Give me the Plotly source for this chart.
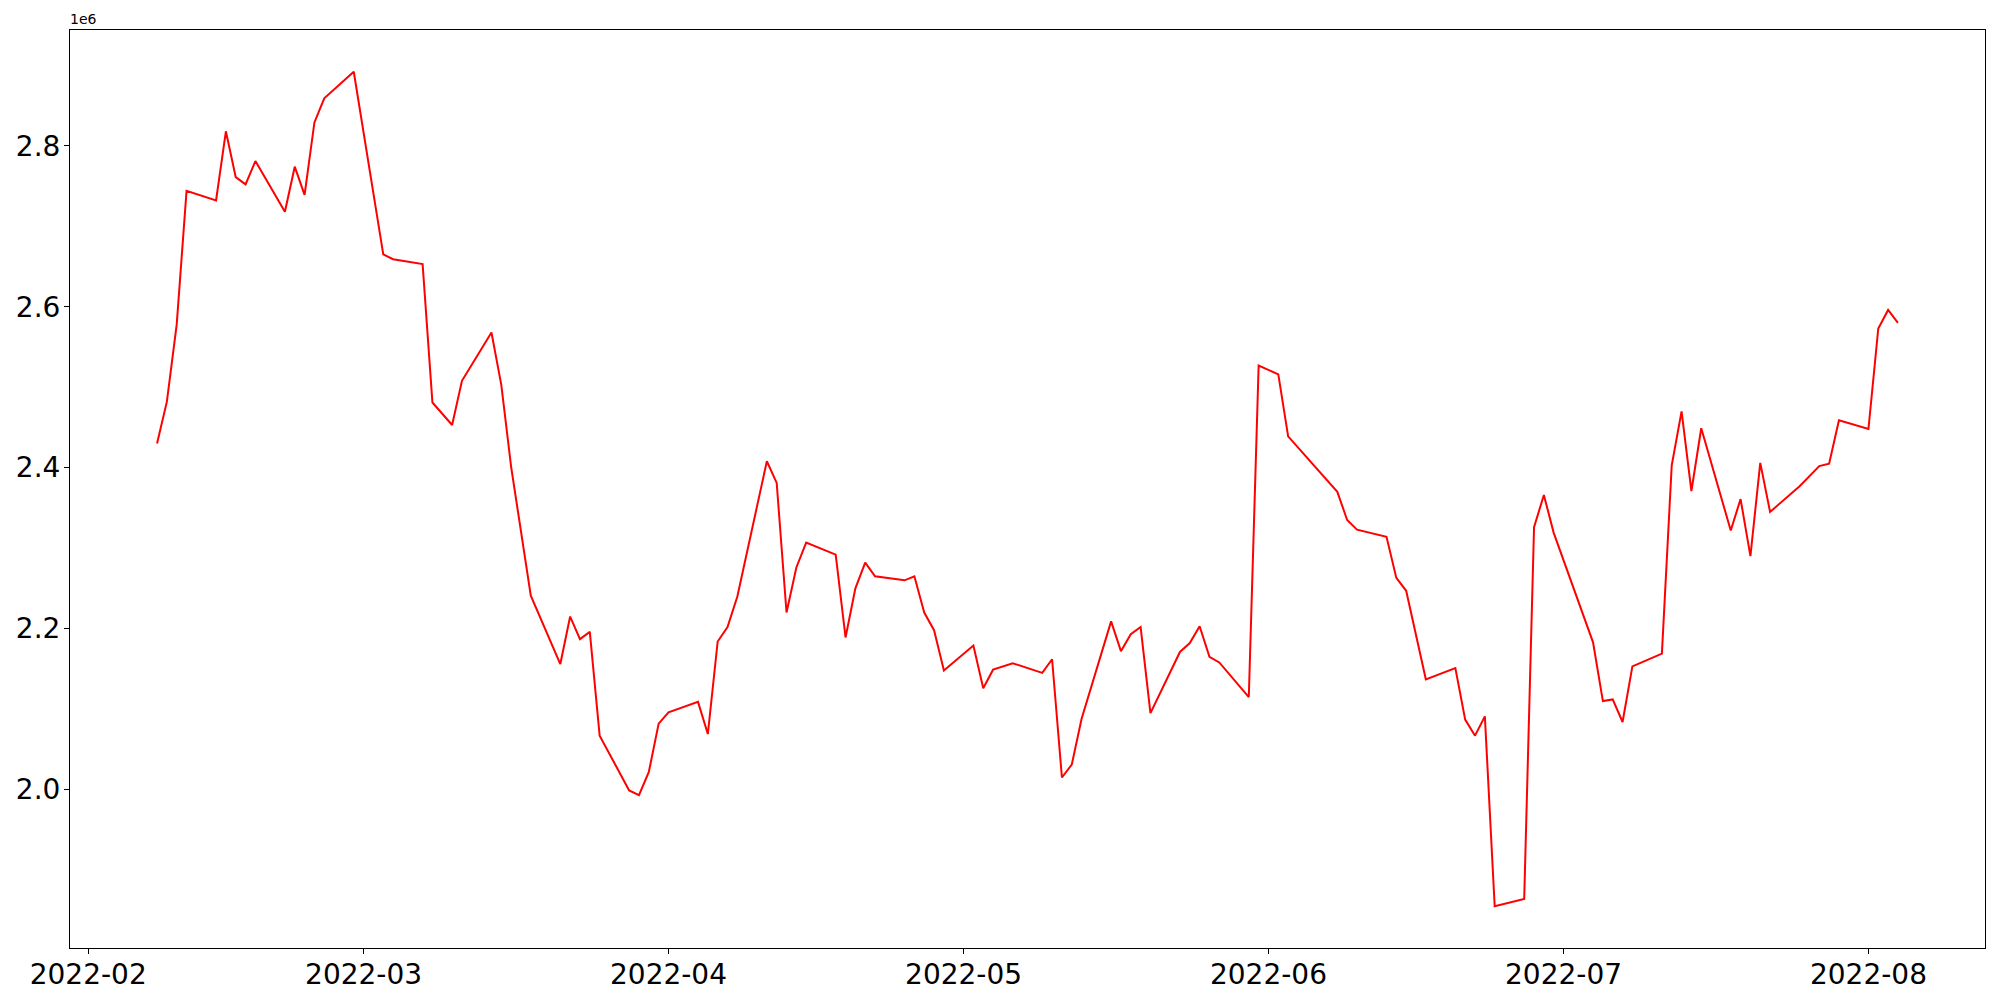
import plotly.graph_objects as go
import pandas as pd

dates = [
    "2022-02-08", "2022-02-09", "2022-02-10", "2022-02-11", "2022-02-14", "2022-02-15",
    "2022-02-16", "2022-02-17", "2022-02-18", "2022-02-21", "2022-02-22", "2022-02-23",
    "2022-02-24", "2022-02-25", "2022-02-28", "2022-03-03", "2022-03-04", "2022-03-07",
    "2022-03-08", "2022-03-10", "2022-03-11", "2022-03-14", "2022-03-15", "2022-03-16",
    "2022-03-18", "2022-03-21", "2022-03-22", "2022-03-23", "2022-03-24", "2022-03-25",
    "2022-03-28", "2022-03-29", "2022-03-30", "2022-03-31", "2022-04-01", "2022-04-04",
    "2022-04-05", "2022-04-06", "2022-04-07", "2022-04-08", "2022-04-11", "2022-04-12",
    "2022-04-13", "2022-04-14", "2022-04-15", "2022-04-18", "2022-04-19", "2022-04-20",
    "2022-04-21", "2022-04-22", "2022-04-25", "2022-04-26", "2022-04-27", "2022-04-28",
    "2022-04-29", "2022-05-02", "2022-05-03", "2022-05-04", "2022-05-06", "2022-05-09",
    "2022-05-10", "2022-05-11", "2022-05-12", "2022-05-13", "2022-05-16", "2022-05-17",
    "2022-05-18", "2022-05-19", "2022-05-20", "2022-05-23", "2022-05-24", "2022-05-25",
    "2022-05-26", "2022-05-27", "2022-05-30", "2022-05-31", "2022-06-02", "2022-06-03",
    "2022-06-08", "2022-06-09", "2022-06-10", "2022-06-13", "2022-06-14", "2022-06-15",
    "2022-06-17", "2022-06-20", "2022-06-21", "2022-06-22", "2022-06-23", "2022-06-24",
    "2022-06-27", "2022-06-28", "2022-06-29", "2022-06-30", "2022-07-04", "2022-07-05",
    "2022-07-06", "2022-07-07", "2022-07-08", "2022-07-11", "2022-07-12", "2022-07-13",
    "2022-07-14", "2022-07-15", "2022-07-18", "2022-07-19", "2022-07-20", "2022-07-21",
    "2022-07-22", "2022-07-25", "2022-07-27", "2022-07-28", "2022-07-29", "2022-08-01",
    "2022-08-02", "2022-08-03", "2022-08-04",
]

values_m = [
    2.430, 2.482, 2.578, 2.744, 2.732, 2.818,
    2.761, 2.752, 2.781, 2.718, 2.774, 2.739,
    2.829, 2.859, 2.892, 2.665, 2.659, 2.653,
    2.481, 2.453, 2.508, 2.568, 2.503, 2.401,
    2.241, 2.156, 2.215, 2.187, 2.196, 2.067,
    1.999, 1.993, 2.022, 2.082, 2.096, 2.109,
    2.069, 2.184, 2.202, 2.240, 2.408, 2.381,
    2.220, 2.276, 2.307, 2.292, 2.189, 2.250,
    2.282, 2.265, 2.260, 2.265, 2.220, 2.198,
    2.148, 2.179, 2.126, 2.149, 2.157, 2.145,
    2.162, 2.015, 2.031, 2.088, 2.209, 2.172,
    2.193, 2.202, 2.095, 2.171, 2.182, 2.203,
    2.165, 2.158, 2.115, 2.527, 2.516, 2.439,
    2.370, 2.335, 2.323, 2.314, 2.263, 2.247,
    2.137, 2.151, 2.087, 2.067, 2.091, 1.855,
    1.864, 2.326, 2.366, 2.319, 2.183, 2.110,
    2.112, 2.084, 2.153, 2.169, 2.403, 2.470,
    2.371, 2.449, 2.322, 2.361, 2.290, 2.406,
    2.345, 2.377, 2.402, 2.405, 2.459, 2.448,
    2.573, 2.596, 2.580,
]

y_tick_vals_m = [2.0, 2.2, 2.4, 2.6, 2.8]
y_tick_text = ["2.0", "2.2", "2.4", "2.6", "2.8"]
x_tick_dates = ["2022-02-01", "2022-03-01", "2022-04-01", "2022-05-01",
                "2022-06-01", "2022-07-01", "2022-08-01"]
x_tick_text = ["2022-02", "2022-03", "2022-04", "2022-05", "2022-06", "2022-07", "2022-08"]

values = [v * 1e6 for v in values_m]
dt = pd.to_datetime(dates)

# matplotlib-like 5% margins
xspan = dt.max() - dt.min()
xr = [dt.min() - 0.05 * xspan, dt.max() + 0.05 * xspan]
ymin, ymax = min(values), max(values)
yspan = ymax - ymin
yr = [ymin - 0.05 * yspan, ymax + 0.05 * yspan]

fig = go.Figure()
fig.add_trace(go.Scatter(x=dt, y=values, mode="lines",
                         line=dict(color="red", width=2)))

font_family = "DejaVu Sans"
fig.update_layout(
    width=2000, height=1000,
    paper_bgcolor="white", plot_bgcolor="white",
    margin=dict(l=70, r=15, t=30, b=52, autoexpand=False),
    showlegend=False,
    font=dict(family=font_family, color="black"),
)
fig.update_xaxes(
    range=xr, automargin=False,
    tickvals=pd.to_datetime(x_tick_dates), ticktext=x_tick_text,
    ticks="outside", ticklen=5, tickwidth=1, tickcolor="black",
    ticklabelstandoff=-4,
    showline=True, linecolor="black", linewidth=1, mirror=True,
    showgrid=False, zeroline=False,
    tickfont=dict(size=28, family=font_family, color="black"),
)
fig.update_yaxes(
    range=yr, automargin=False,
    tickvals=[v * 1e6 for v in y_tick_vals_m], ticktext=y_tick_text,
    ticks="outside", ticklen=5, tickwidth=1, tickcolor="black",
    ticklabelstandoff=-2,
    showline=True, linecolor="black", linewidth=1, mirror=True,
    showgrid=False, zeroline=False,
    tickfont=dict(size=28, family=font_family, color="black"),
)
fig.add_annotation(
    text="1e6", xref="paper", yref="paper", x=0, y=1,
    xanchor="left", yanchor="bottom", showarrow=False, yshift=1, xshift=-2,
    font=dict(size=14, family=font_family, color="black"),
)

fig.write_html("out.html", config={"displayModeBar": False},
               post_script="document.body.style.margin='0';document.body.style.padding='0';")
